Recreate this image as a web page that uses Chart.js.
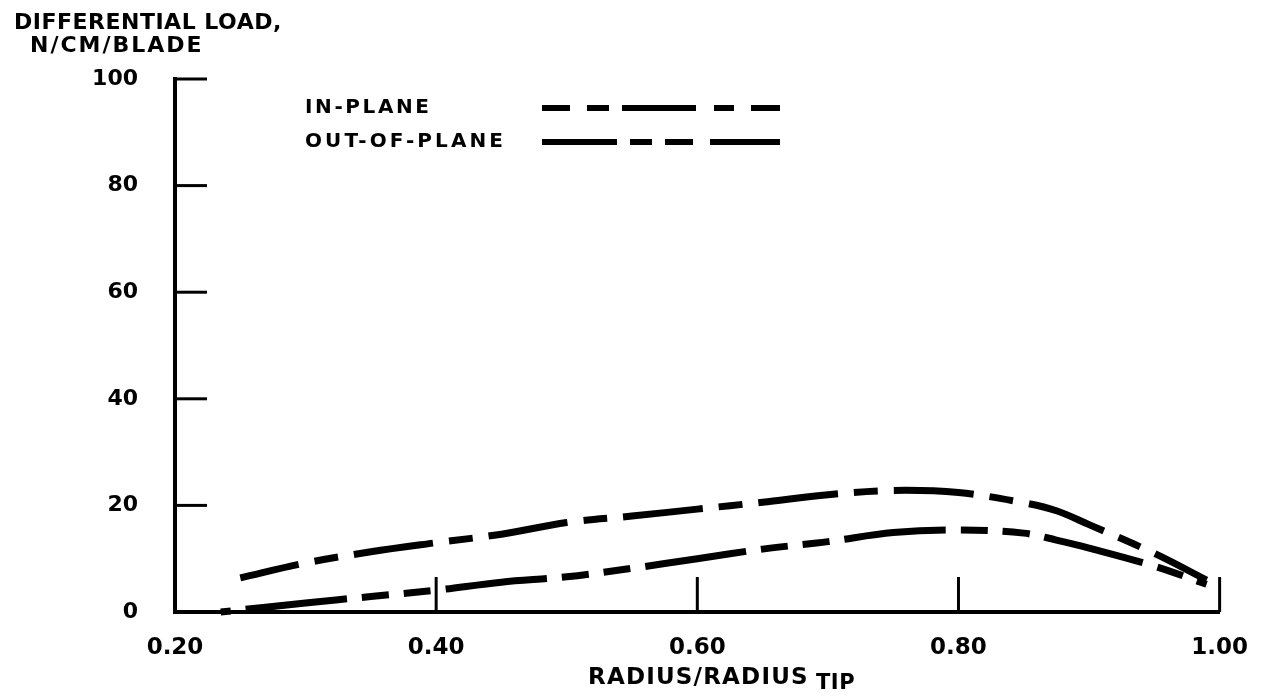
<!DOCTYPE html>
<html>
<head>
<meta charset="utf-8">
<script src="https://cdn.jsdelivr.net/npm/chart.js@4.4.0/dist/chart.umd.min.js"></script>
<style>
  html, body { margin: 0; padding: 0; background: #fff; }
  #loadChart { display: block; }
</style>
</head>
<body>
<canvas id="loadChart" width="1270" height="697"></canvas>
<script>
// values
const inPlaneRadius = [0.25, 0.30, 0.35, 0.40, 0.45, 0.50, 0.55, 0.60, 0.65, 0.70, 0.75, 0.80, 0.85, 0.875, 0.90, 0.95, 0.99];
const inPlaneLoad = [6.4, 9.2, 11.3, 13.0, 14.6, 16.8, 18.0, 19.3, 20.6, 22.0, 22.8, 22.4, 20.5, 19.0, 16.4, 11.0, 6.0];
const outPlaneRadius = [0.235, 0.30, 0.35, 0.40, 0.45, 0.50, 0.55, 0.60, 0.65, 0.70, 0.75, 0.80, 0.85, 0.875, 0.90, 0.95, 0.99];
const outPlaneLoad = [0.0, 1.7, 2.9, 4.1, 5.6, 6.6, 8.2, 10.0, 11.8, 13.2, 14.9, 15.4, 14.8, 13.5, 12.0, 8.6, 5.2];
const seriesNames = ["IN-PLANE", "OUT-OF-PLANE"];
const xTicks = [0.2, 0.4, 0.6, 0.8, 1.0];
const yTicks = [0, 20, 40, 60, 80, 100];

const FONT = "'DejaVu Sans', sans-serif";
Chart.defaults.font.family = FONT;
Chart.defaults.font.weight = "bold";
Chart.defaults.color = "#000";

function toPoints(xs, ys) {
  return xs.map((x, i) => ({ x: x, y: ys[i] }));
}

// legend samples have their own dash layout
const legendDash = [
  [28, 17, 22, 13, 74, 18, 20, 17, 30, 20],
  [75, 13, 22, 13, 28, 17, 70, 20]
];

// inward tick marks, titles and the legend are drawn here
const decorations = {
  id: "decorations",
  afterDraw(chart) {
    const ctx = chart.ctx;
    const xs = chart.scales.x;
    const ys = chart.scales.y;
    const area = chart.chartArea;
    ctx.save();
    ctx.strokeStyle = "#000";
    ctx.fillStyle = "#000";
    ctx.lineWidth = 3;
    yTicks.slice(1).forEach(v => {
      const py = ys.getPixelForValue(v);
      ctx.beginPath();
      ctx.moveTo(area.left, py);
      ctx.lineTo(area.left + 32, py);
      ctx.stroke();
    });
    xTicks.slice(1).forEach(v => {
      const px = xs.getPixelForValue(v);
      ctx.beginPath();
      ctx.moveTo(px, area.bottom);
      ctx.lineTo(px, area.bottom - 35);
      ctx.stroke();
    });

    ctx.textBaseline = "middle";
    ctx.textAlign = "left";
    ctx.font = "bold 22px " + FONT;
    ctx.letterSpacing = "0.5px";
    ctx.fillText("DIFFERENTIAL LOAD,", 14, 23);
    ctx.letterSpacing = "2px";
    ctx.fillText("N/CM/BLADE", 30, 46);

    ctx.font = "bold 23px " + FONT;
    ctx.letterSpacing = "1.2px";
    ctx.fillText("RADIUS/RADIUS", 588, 678);
    ctx.font = "bold 21px " + FONT;
    ctx.letterSpacing = "0.5px";
    ctx.fillText("TIP", 816, 684);

    chart.data.datasets.forEach((ds, i) => {
      const ly = 108 + i * 34;
      ctx.font = "bold 20px " + FONT;
      ctx.letterSpacing = i === 0 ? "2.6px" : "3.1px";
      ctx.fillText(ds.label, 305, ly);
      ctx.letterSpacing = "0px";
      ctx.lineWidth = 6;
      ctx.setLineDash(legendDash[i]);
      ctx.beginPath();
      ctx.moveTo(542, ly);
      ctx.lineTo(780, ly);
      ctx.stroke();
      ctx.setLineDash([]);
    });
    ctx.restore();
  }
};

new Chart(document.getElementById("loadChart"), {
  type: "line",
  data: {
    datasets: [
      {
        label: seriesNames[0],
        data: toPoints(inPlaneRadius, inPlaneLoad),
        borderColor: "#000",
        borderWidth: 7,
        borderDash: [80, 16, 24, 16],
        borderDashOffset: 20,
        tension: 0.35,
        pointRadius: 0,
        fill: false,
        clip: false
      },
      {
        label: seriesNames[1],
        data: toPoints(outPlaneRadius, outPlaneLoad),
        borderColor: "#000",
        borderWidth: 7,
        borderDash: [102, 15, 27, 15, 27, 15],
        borderDashOffset: -25,
        tension: 0.35,
        pointRadius: 0,
        fill: false,
        clip: false
      }
    ]
  },
  options: {
    responsive: false,
    animation: false,
    layout: { padding: { top: 79, right: 48, left: 0, bottom: 0 } },
    plugins: {
      legend: { display: false },
      tooltip: { enabled: false }
    },
    scales: {
      x: {
        type: "linear",
        min: 0.2,
        max: 1.0,
        afterFit: s => { s.height = 85; },
        afterBuildTicks: s => { s.ticks = xTicks.map(v => ({ value: v })); },
        grid: { display: false, drawTicks: false },
        border: { display: true, color: "#000", width: 4 },
        ticks: {
          autoSkip: false,
          maxRotation: 0,
          padding: 22,
          font: { size: 23, weight: "bold" },
          callback: v => v.toFixed(2)
        }
      },
      y: {
        min: 0,
        max: 100,
        afterFit: s => { s.width = 175; },
        afterBuildTicks: s => { s.ticks = yTicks.map(v => ({ value: v })); },
        grid: { display: false, drawTicks: false },
        border: { display: true, color: "#000", width: 4 },
        ticks: {
          padding: 37,
          font: { size: 22, weight: "bold" }
        }
      }
    }
  },
  plugins: [decorations]
});
</script>
</body>
</html>
